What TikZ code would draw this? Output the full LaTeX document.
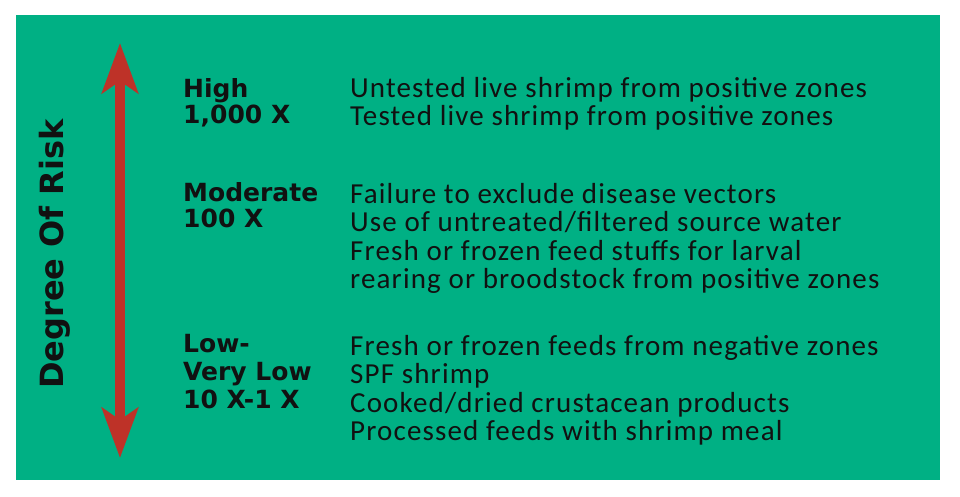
\documentclass[tikz,border=0pt]{standalone}
\usepackage{fontspec}
\setmainfont{Carlito}
\newfontfamily\bodyfont{Carlito}[LetterSpace=4.0]
\newfontfamily\labfont{DejaVu Sans}
\usetikzlibrary{arrows.meta}
\definecolor{bggreen}{RGB}{0,176,132}
\definecolor{arrred}{RGB}{190,50,40}
\definecolor{txt}{RGB}{17,17,17}
\tikzset{
  body/.style={anchor=base west, inner sep=0pt, text=txt, font=\bodyfont\fontsize{29}{29}\selectfont},
  lab/.style={anchor=base west, inner sep=0pt, text=txt, font=\labfont\bfseries\fontsize{25}{25}\selectfont},
  riskarrow/.style={draw=arrred, line width=10pt,
    {Stealth[length=50pt,width=36pt,inset=12pt,fill=arrred]}-{Stealth[length=50pt,width=36pt,inset=12pt,fill=arrred]}}
}
\begin{document}
\begin{tikzpicture}[x=1pt,y=-1pt]
\useasboundingbox (0,0) rectangle (960,496);
\fill[white] (0,0) rectangle (960,496);
\fill[bggreen] (16,15) rectangle (940,480);
% arrow
\coordinate (atop) at (120,43);
\coordinate (abot) at (120,458);
\draw[riskarrow] (atop) -- (abot);
% title
\node[anchor=base, rotate=90, inner sep=0pt, text=txt, font=\labfont\bfseries\fontsize{32}{32}\selectfont] (title) at (63,254) {Degree Of Risk};
% labels
\node[lab] (l1a) at (183,97) {High};
\node[lab] (l1b) at (183,123) {1,000 X};
\node[lab] (l2a) at (183,201) {Moderate};
\node[lab] (l2b) at (183,227) {100 X};
\node[lab] (l3a) at (183,352) {Low-};
\node[lab] (l3b) at (183,380) {Very Low};
\node[lab] (l3c) at (183,408) {10 X-1 X};
% body
\node[body] (b1a) at (350,97.5) {Untested live shrimp from positive zones};
\node[body] (b1b) at (350,125.5) {Tested live shrimp from positive zones};
\node[body] (b2a) at (350,203) {Failure to exclude disease vectors};
\node[body] (b2b) at (350,231.5) {Use of untreated/filtered source water};
\node[body] (b2c) at (350,260) {Fresh or frozen feed stuffs for larval};
\node[body] (b2d) at (350,288.5) {rearing or broodstock from positive zones};
\node[body] (b3a) at (350,355) {Fresh or frozen feeds from negative zones};
\node[body] (b3b) at (350,383.5) {SPF shrimp};
\node[body] (b3c) at (350,412) {Cooked/dried crustacean products};
\node[body] (b3d) at (350,440.5) {Processed feeds with shrimp meal};
\end{tikzpicture}
\end{document}
